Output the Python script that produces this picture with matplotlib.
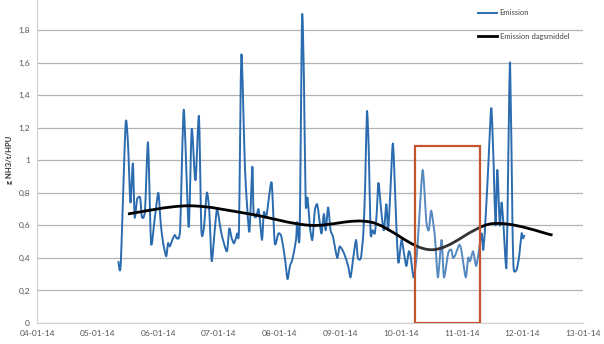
import numpy as np
import matplotlib
matplotlib.use("Agg")
import matplotlib.pyplot as plt
from matplotlib.path import Path
from matplotlib.patches import PathPatch, Rectangle
from matplotlib.lines import Line2D

plt.rcParams['font.family'] = ['Lato', 'DejaVu Sans']

# x axis: days after 04-01-14
date_labels = ['04-01-14', '05-01-14', '06-01-14', '07-01-14', '08-01-14',
               '09-01-14', '10-01-14', '11-01-14', '12-01-14', '13-01-14']
y_ticks = [0, 0.2, 0.4, 0.6, 0.8, 1.0, 1.2, 1.4, 1.6, 1.8, 2.0]
y_labels = ['0', '0,2', '0,4', '0,6', '0,8', '1', '1,2', '1,4', '1,6', '1,8', '2']

# Emission (g NH3/t/HPU)
emis_day = [1.34, 1.38, 1.46, 1.50, 1.54, 1.58, 1.61, 1.65, 1.70, 1.73, 1.78, 1.83,
            1.88, 1.94, 2.00, 2.04, 2.08, 2.13, 2.16, 2.19, 2.22, 2.27, 2.31, 2.36,
            2.42, 2.50, 2.55, 2.60, 2.62, 2.67, 2.71, 2.75, 2.80, 2.84, 2.88, 2.93,
            2.97, 3.04, 3.13, 3.17, 3.21, 3.25, 3.30, 3.33, 3.37, 3.43, 3.50, 3.55,
            3.57, 3.61, 3.65, 3.67, 3.71, 3.74, 3.78, 3.82, 3.87, 3.92, 3.98, 4.03,
            4.09, 4.13, 4.17, 4.21, 4.27, 4.29, 4.33, 4.37, 4.40, 4.43, 4.46, 4.50,
            4.54, 4.58, 4.62, 4.65, 4.69, 4.73, 4.76, 4.80, 4.84, 4.88, 4.95, 4.99,
            5.06, 5.13, 5.17, 5.21, 5.26, 5.29, 5.34, 5.38, 5.41, 5.44, 5.47, 5.50,
            5.53, 5.57, 5.60, 5.63, 5.68, 5.72, 5.76, 5.79, 5.83, 5.87, 5.93, 5.96,
            6.01, 6.05, 6.09, 6.13, 6.16, 6.21, 6.26, 6.30, 6.36, 6.42, 6.46, 6.50,
            6.56, 6.61, 6.67, 6.71, 6.78, 6.83, 6.86, 6.90, 6.96, 6.99, 7.02, 7.07,
            7.11, 7.14, 7.19, 7.24, 7.28, 7.33, 7.36, 7.40, 7.44, 7.49, 7.53, 7.56,
            7.59, 7.63, 7.66, 7.69, 7.74, 7.77, 7.80, 7.84, 7.86, 7.91, 7.95, 7.99,
            8.01, 8.04]
emis_val = [0.38, 0.36, 1.22, 1.10, 0.74, 0.98, 0.65, 0.76, 0.77, 0.65, 0.69, 1.11,
            0.49, 0.64, 0.80, 0.61, 0.49, 0.41, 0.49, 0.47, 0.50, 0.54, 0.52, 0.58,
            1.31, 0.59, 1.19, 0.91, 0.90, 1.27, 0.57, 0.58, 0.80, 0.69, 0.38, 0.57,
            0.70, 0.55, 0.44, 0.58, 0.52, 0.49, 0.55, 0.58, 1.65, 0.94, 0.56, 0.96,
            0.68, 0.65, 0.70, 0.65, 0.51, 0.68, 0.65, 0.76, 0.86, 0.49, 0.55, 0.53,
            0.39, 0.27, 0.35, 0.39, 0.51, 0.62, 0.54, 1.88, 1.51, 0.73, 0.77, 0.59,
            0.51, 0.69, 0.73, 0.65, 0.55, 0.67, 0.57, 0.71, 0.57, 0.53, 0.40, 0.47,
            0.43, 0.35, 0.28, 0.39, 0.51, 0.40, 0.40, 0.55, 0.84, 1.30, 1.06, 0.55,
            0.57, 0.55, 0.67, 0.86, 0.67, 0.57, 0.73, 0.57, 0.84, 1.10, 0.55, 0.37,
            0.51, 0.43, 0.35, 0.44, 0.41, 0.28, 0.41, 0.63, 0.94, 0.62, 0.57, 0.69,
            0.53, 0.28, 0.51, 0.28, 0.43, 0.45, 0.40, 0.42, 0.48, 0.46, 0.39, 0.28,
            0.40, 0.38, 0.44, 0.35, 0.43, 0.55, 0.45, 0.67, 0.96, 1.32, 0.96, 0.60,
            0.94, 0.60, 0.74, 0.61, 0.34, 1.00, 1.60, 0.59, 0.33, 0.33, 0.41, 0.55,
            0.52, 0.54]

# Emission dagsmiddel (daily mean, plotted mid-day)
mean_day = [1.5, 2.5, 3.5, 4.5, 5.5, 6.5, 7.5, 8.5]
mean_val = [0.67, 0.72, 0.67, 0.60, 0.62, 0.45, 0.61, 0.54]

# highlighted period
box_x0, box_x1, box_top = 6.24, 7.31, 1.09


def smooth_path(x, y, k=1/6):
    # Catmull-Rom style curve through the points, as cubic Bezier segments
    p = np.column_stack([x, y])
    n = len(p)
    verts = [p[0]]
    codes = [Path.MOVETO]
    for i in range(n - 1):
        p0 = p[max(i - 1, 0)]
        p1 = p[i]
        p2 = p[i + 1]
        p3 = p[min(i + 2, n - 1)]
        verts += [p1 + (p2 - p0) * k, p2 - (p3 - p1) * k, p2]
        codes += [Path.CURVE4] * 3
    return Path(verts, codes)


fig = plt.figure(figsize=(6.04, 3.44), dpi=100)
ax = fig.add_axes([0.0613, 0.061, 0.9037, 0.9466])

blue = '#2b6cb0'
ax.add_patch(PathPatch(smooth_path(emis_day, emis_val, k=1/9), fill=False,
                       edgecolor=blue, lw=1.4, joinstyle='round', zorder=3))
ax.add_patch(PathPatch(smooth_path(mean_day, mean_val), fill=False,
                       edgecolor='black', lw=2.0, zorder=4))

# light veil over the highlighted period, then its frame
ax.add_patch(Rectangle((box_x0, 0), box_x1 - box_x0, box_top,
                       facecolor='white', alpha=0.2, edgecolor='none', zorder=5))
ax.add_patch(Rectangle((box_x0, 0), box_x1 - box_x0, box_top,
                       fill=False, edgecolor='#c4532e', lw=1.6, zorder=6))

ax.set_xlim(0, 9)
ax.set_ylim(0, 2)
ax.set_xticks(np.arange(len(date_labels)))
ax.set_xticklabels(date_labels)
ax.set_yticks(y_ticks)
ax.set_yticklabels(y_labels)
ax.tick_params(length=0, labelsize=6, colors='#555555', pad=5)
ax.grid(axis='y', color='#b3b3b3', lw=0.9)
ax.set_axisbelow(True)
for side in ['top', 'right']:
    ax.spines[side].set_visible(False)
ax.spines['left'].set_color('#d0d0d0')
ax.spines['bottom'].set_color('#d0d0d0')
ax.set_ylabel('g NH3/t/HPU', fontsize=5.5, fontweight='bold', color='#333333', labelpad=4)

handles = [Line2D([], [], color=blue, lw=1.4),
           Line2D([], [], color='black', lw=2.0)]
ax.legend(handles, ['Emission', 'Emission dagsmiddel'], loc='upper left',
          bbox_to_anchor=(0.80, 0.975), frameon=False, fontsize=5.5,
          handlelength=2.6, handletextpad=0.3, labelspacing=2.2, borderpad=0,
          labelcolor='#444444')

fig.savefig('out.png', dpi=100)
